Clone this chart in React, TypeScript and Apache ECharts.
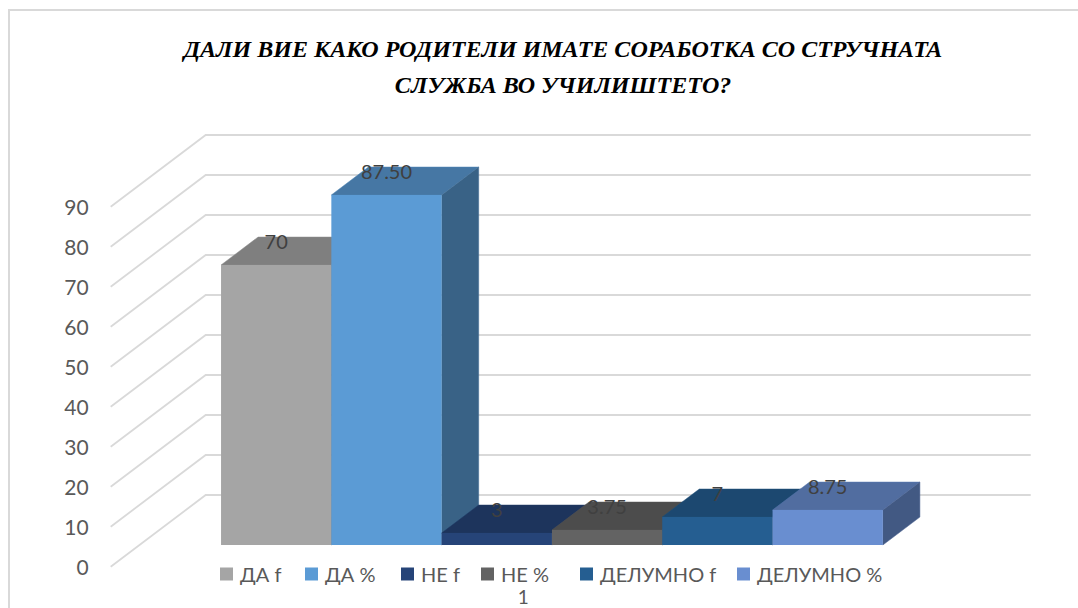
import React, { useEffect, useRef } from "react";
import * as echarts from "echarts";

// ---- data ----
const categories = ["1"];
const seriesNames = ["ДА f", "ДА %", "НЕ f", "НЕ %", "ДЕЛУМНО f", "ДЕЛУМНО %"];
const seriesValues = [70, 87.5, 3, 3.75, 7, 8.75];
const labelDecimals = [0, 2, 0, 2, 0, 2];
const seriesColors = ["#A5A5A5", "#5B9BD5", "#264478", "#636363", "#255E91", "#698ED0"];
const yTicks = [0, 10, 20, 30, 40, 50, 60, 70, 80, 90];
const titleText = "ДАЛИ ВИЕ КАКО РОДИТЕЛИ ИМАТЕ СОРАБОТКА СО СТРУЧНАТА\nСЛУЖБА ВО УЧИЛИШТЕТО?";

// ---- layout / 3D styling constants (pixels) ----
const DEPTH_DX = 95;
const DEPTH_DY = -71.7;
const FRONT = 0.3026;
const BACK = 0.6926;
const BAR_FRAC = 0.1337;
const LEGEND_LEFT = [220, 305, 401, 481, 580, 737];
const FONT = "Lato, 'Noto Sans', sans-serif";

function shade(hex: string, f: number): string {
  const n = parseInt(hex.slice(1), 16);
  const r = Math.round(((n >> 16) & 255) * f);
  const g = Math.round(((n >> 8) & 255) * f);
  const b = Math.round((n & 255) * f);
  return "rgb(" + r + "," + g + "," + b + ")";
}

function makeBarRender(si: number) {
  return (params: any, api: any) => {
    const v = api.value(1);
    const p0 = api.coord([0, 0]);
    const p1 = api.coord([0, v]);
    const catW = api.size([1, 0])[0];
    const bw = catW * BAR_FRAC;
    const n = seriesNames.length;
    const fx = p0[0] - (n * bw) / 2 + si * bw + FRONT * DEPTH_DX;
    const fyB = p0[1] + FRONT * DEPTH_DY;
    const fyT = p1[1] + FRONT * DEPTH_DY;
    const dx = (BACK - FRONT) * DEPTH_DX;
    const dy = (BACK - FRONT) * DEPTH_DY;
    const c = seriesColors[si];
    return {
      type: "group",
      children: [
        {
          type: "polygon",
          shape: { points: [[fx, fyT], [fx + bw, fyT], [fx + bw + dx, fyT + dy], [fx + dx, fyT + dy]] },
          style: { fill: shade(c, 0.77), stroke: shade(c, 0.85), lineWidth: 0.5 },
        },
        {
          type: "polygon",
          shape: { points: [[fx + bw, fyT], [fx + bw + dx, fyT + dy], [fx + bw + dx, fyB + dy], [fx + bw, fyB]] },
          style: { fill: shade(c, 0.63), stroke: shade(c, 0.7), lineWidth: 0.5 },
        },
        {
          type: "rect",
          shape: { x: fx, y: fyT, width: bw, height: fyB - fyT },
          style: { fill: c },
        },
        {
          type: "text",
          x: fx + bw / 2,
          y: fyT - 24,
          z2: 10,
          style: {
            text: v.toFixed(labelDecimals[si]),
            fill: "#404040",
            font: "20px " + FONT,
            align: "center",
            verticalAlign: "middle",
          },
        },
      ],
    };
  };
}

function wallRender(params: any, api: any) {
  const cs = params.coordSys;
  const y = api.coord([0, api.value(1)])[1];
  const x = cs.x;
  return {
    type: "polyline",
    shape: { points: [[x, y], [x + DEPTH_DX, y + DEPTH_DY], [x + cs.width + DEPTH_DX, y + DEPTH_DY]] },
    style: { stroke: "#D9D9D9", lineWidth: 1.8, fill: null },
    silent: true,
  };
}

export default function App() {
  const ref = useRef<HTMLDivElement>(null);
  useEffect(() => {
    if (!ref.current) return;
    const chart = echarts.init(ref.current, null, { renderer: "svg" });
    const option: any = {
      animation: false,
      backgroundColor: "#ffffff",
      graphic: [
        {
          type: "rect",
          shape: { x: 9, y: 10, width: 1200, height: 800 },
          style: { fill: "none", stroke: "#D9D9D9", lineWidth: 2 },
          z: -10,
          silent: true,
        },
        {
          type: "text",
          x: 563,
          y: 31,
          style: {
            text: titleText,
            font: "italic bold 24px 'Liberation Serif', 'Times New Roman', serif",
            fill: "#000000",
            align: "center",
            verticalAlign: "top",
            lineHeight: 36,
          },
        },
      ],
      grid: { left: 110.7, top: 206.7, width: 825, height: 360 },
      xAxis: {
        type: "category",
        data: categories,
        axisLine: { show: false },
        axisTick: { show: false },
        axisLabel: { fontSize: 19, lineHeight: 16, color: "#595959", fontFamily: FONT, margin: 22 },
        splitLine: { show: false },
      },
      yAxis: {
        type: "value",
        min: 0,
        max: 90,
        interval: 10,
        axisLine: { show: false },
        axisTick: { show: false },
        splitLine: { show: false },
        axisLabel: { fontSize: 21, color: "#595959", fontFamily: FONT, margin: 22 },
      },
      legend: seriesNames.map((name, i) => ({
        data: [name],
        left: LEGEND_LEFT[i],
        top: 564,
        itemWidth: 13,
        itemHeight: 13,
        icon: "rect",
        padding: 0,
        textStyle: { fontSize: 20, lineHeight: 20, color: "#595959", fontFamily: FONT, padding: [0, 0, 0, 2] },
      })),
      series: [
        {
          type: "custom",
          name: "walls",
          renderItem: wallRender,
          data: yTicks.map((v) => [0, v]),
          z: 1,
          silent: true,
        },
        ...seriesNames.map((name, i) => ({
          type: "custom",
          name,
          renderItem: makeBarRender(i),
          itemStyle: { color: seriesColors[i] },
          data: [[0, seriesValues[i]]],
          z: 2 + i,
        })),
      ],
    };
    chart.setOption(option);
    return () => chart.dispose();
  }, []);
  return (
    <div
      ref={ref}
      style={{ position: "absolute", left: 0, top: 0, width: 1078, height: 608 }}
    />
  );
}
